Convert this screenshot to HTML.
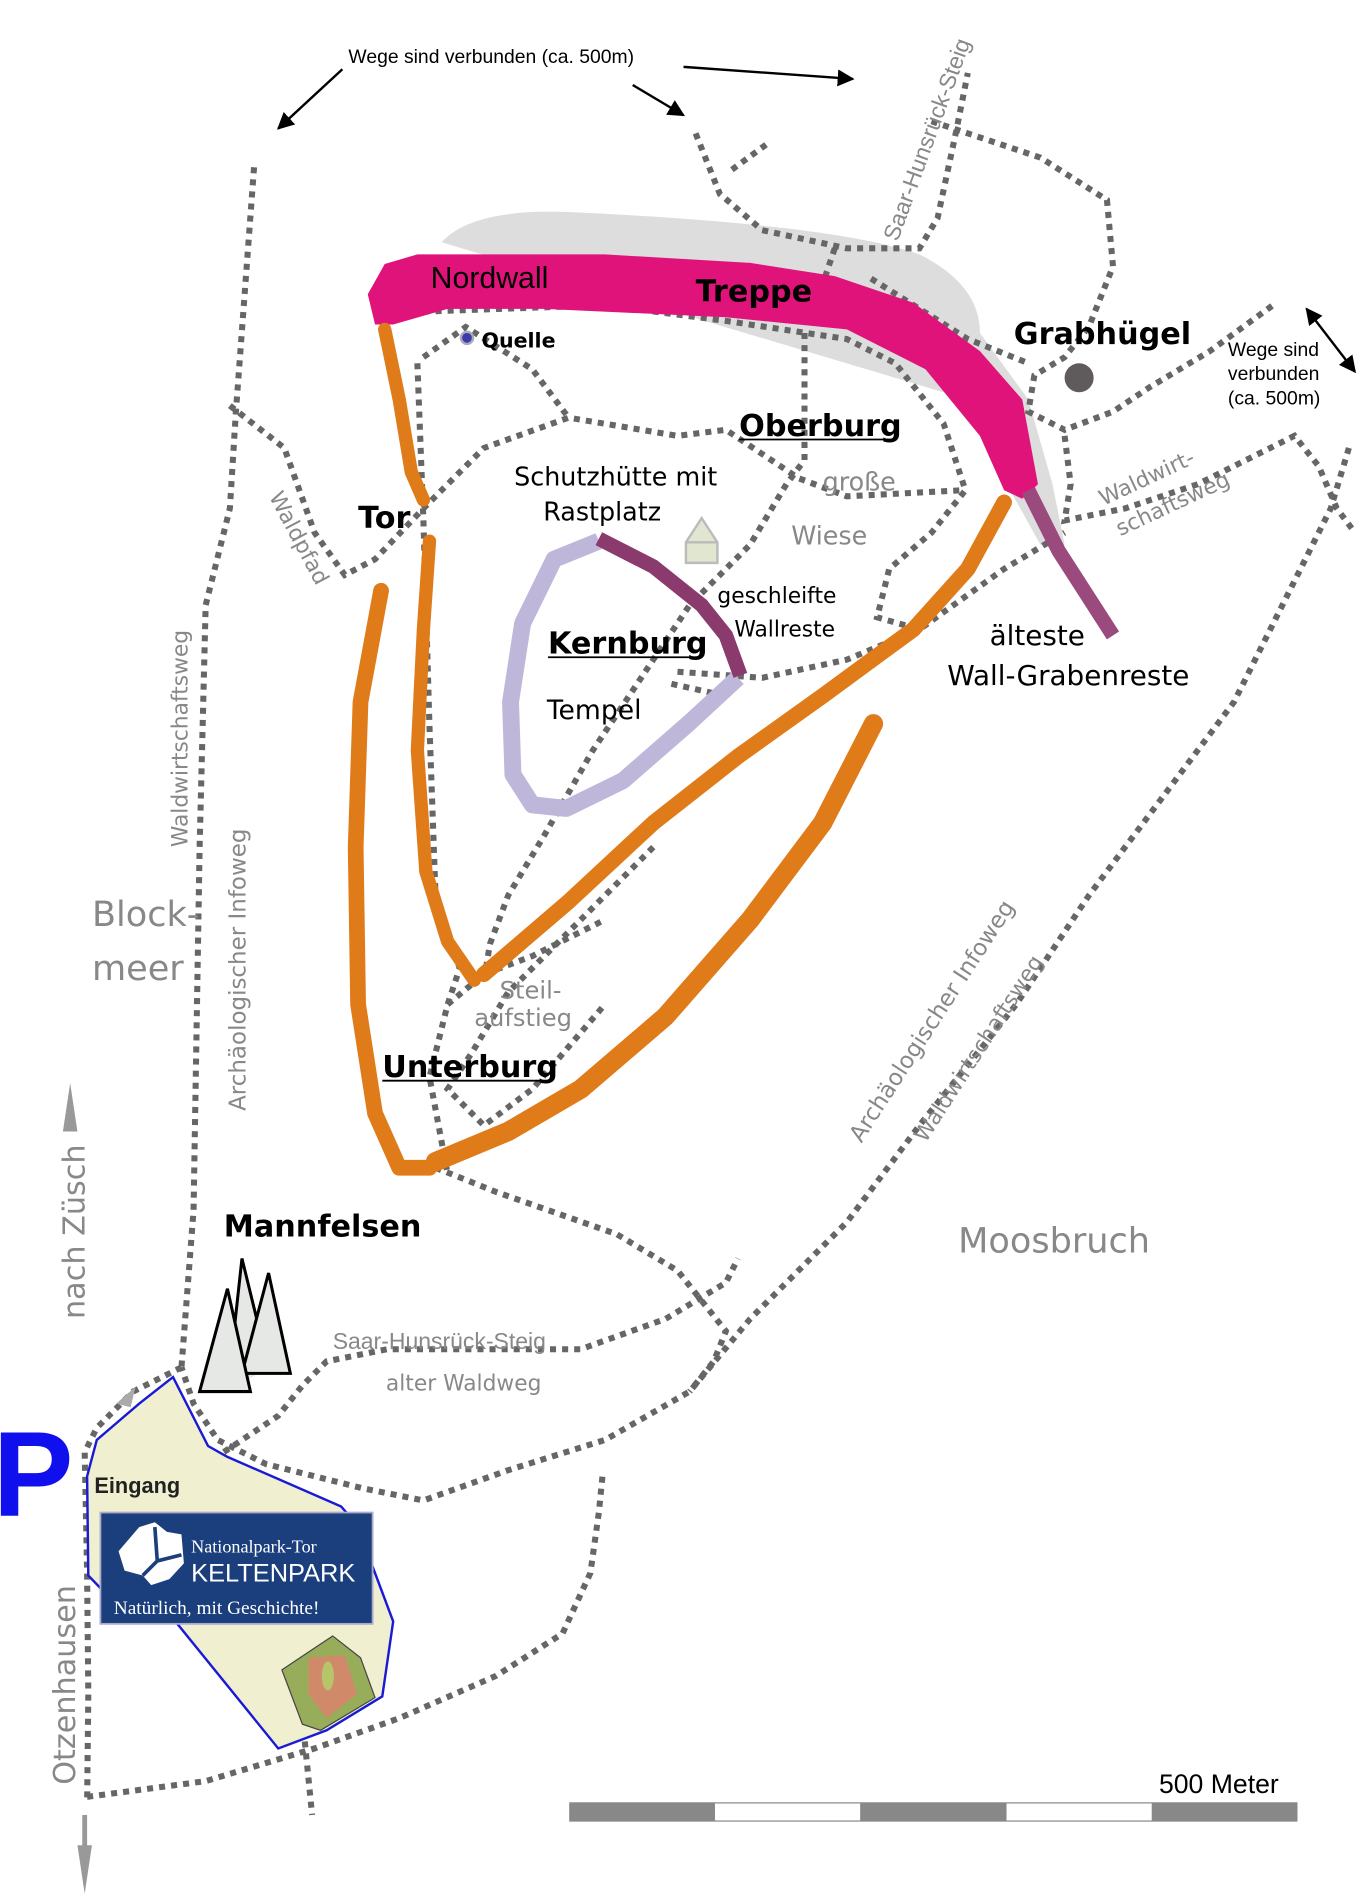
<!DOCTYPE html>
<html><head><meta charset="utf-8"><style>
html,body{margin:0;padding:0;background:#fff;}
svg{display:block}
.d{fill:none;stroke:#666;stroke-width:5;stroke-dasharray:5 5}
.c{font-family:"DejaVu Sans","Liberation Sans",sans-serif}
.a{font-family:"Liberation Sans",sans-serif}
.g{fill:#888}
</style></head><body>
<svg width="1361" height="1900" viewBox="0 0 1125 1570" xmlns="http://www.w3.org/2000/svg">
<defs><marker id="ar" viewBox="0 0 10 10" refX="9" refY="5" markerWidth="7" markerHeight="7" orient="auto-start-reverse"><path d="M0,0L10,5L0,10z" fill="#000"/></marker></defs>

<!-- gray shadow -->
<path d="M365,200 Q390,172 470,175 Q690,185 760,210 Q810,235 810,275 L850,330 L870,400 L880,450 L860,450 L835,405 L800,330 Z" fill="#ddd"/>

<!-- dotted paths -->
<g class="d">
<path d="M210,138 L195,340 L190,420 L170,500 L165,700 L160,1000 L150,1130"/>
<path d="M190,335 L235,370 L260,440 L285,475 L310,462 L350,420 L400,370 L470,345 L560,360 L600,355 L660,395 L700,410 L795,405"/>
<path d="M350,295 L385,270 L440,305 L470,345"/>
<path d="M345,300 L350,430 L355,600 L360,740 L380,800 L370,830 L355,890 L370,970"/>
<path d="M330,258 L500,252 L600,265 L700,280 L740,300 L780,350 L798,405 L770,440 L735,470 L725,510 L760,520"/>
<path d="M665,275 L665,380 L650,400 L620,450 L570,500 L530,560 L490,620 L450,690 L420,740 L405,780 L400,810"/>
<path d="M690,205 L668,270"/>
<path d="M575,110 L595,160 L630,190 L700,205 L760,205 L775,180 L790,110 L800,60"/>
<path d="M605,140 L635,118"/>
<path d="M770,100 L860,130 L915,165 L920,220 L900,270 L880,295 L855,310 L850,340 L880,355 L920,340 L950,320 L1000,290 L1055,250"/>
<path d="M720,230 L800,280 L850,300"/>
<path d="M880,360 L885,400 L880,430 L930,420 L990,400 L1040,375 L1070,360 L1090,385 L1105,420 L1120,440"/>
<path d="M1115,370 L1100,420 L1060,500 L1020,580 L960,660 L900,740 L840,830 L800,880 L760,930 L700,1010 L620,1090 L570,1150 L500,1190 L420,1215 L350,1240 L300,1230 L220,1210 L180,1190 L160,1160 L150,1130"/>
<path d="M560,555 L630,560 L700,545 L760,520 L830,470 L880,440"/>
<path d="M555,565 L600,575"/>
<path d="M360,965 L410,985 L510,1020 L560,1050 L600,1100 L590,1125 L570,1150"/>
<path d="M185,1200 L230,1170 L250,1145 L270,1125 L320,1115 L400,1115 L480,1115 L550,1090 L600,1060 L610,1040"/>
<path d="M370,830 L400,805 L440,790 L500,760"/>
<path d="M540,700 L480,760 L420,820 L390,870 L370,900 L400,930 L440,900 L500,830"/>
<path d="M150,1130 L110,1150 L80,1180 L70,1200 L72,1300 L73,1400 L72,1490"/>
<path d="M72,1485 L170,1472 L260,1445 L330,1420 L410,1385 L465,1350 L488,1300 L495,1250 L498,1220"/>
<path d="M240,1350 L250,1420 L258,1500"/>
</g>

<!-- Nordwall -->
<path d="M304,243 L318,218 L345,210 L500,210 L620,217 L690,228 L755,250 L810,290 L845,330 L858,400 L845,412 L830,405 L810,360 L765,305 L700,272 L600,262 L450,255 L370,255 L325,268 L310,268 Z" fill="#e0137b"/>
<path d="M850,405 L875,455 L920,525" stroke="#9b4a7d" stroke-width="12" fill="none"/>

<!-- orange walls -->
<g fill="none" stroke="#e07b1a" stroke-linecap="round" stroke-linejoin="round">
<path d="M318,272 L330,330 L340,390 L350,413" stroke-width="11"/>
<path d="M355,447 L350,520 L345,620 L352,720 L370,778 L392,810" stroke-width="11"/>
<path d="M315,488 L298,580 L294,700 L296,830 L310,920 L330,965 L355,965" stroke-width="13"/>
<path d="M360,960 L420,935 L480,900 L550,840 L620,760 L680,680 L722,598" stroke-width="16"/>
<path d="M400,805 L470,745 L540,680 L610,625 L680,575 L755,520 L800,470 L830,415" stroke-width="13"/>
</g>

<!-- Kernburg -->
<path d="M495,447 L458,462 L432,515 L422,580 L424,640 L440,665 L468,668 L515,645 L570,597 L610,560" fill="none" stroke="#bfb7da" stroke-width="14" stroke-linejoin="round"/>
<path d="M495,445 L540,468 L580,500 L600,525 L612,558" fill="none" stroke="#8b3a6d" stroke-width="12"/>
<!-- hut -->
<path d="M567,448 L580,428 L593,448 L593,465 L567,465 Z" fill="#e1e6d1" stroke="#bbb" stroke-width="2"/>
<line x1="567" y1="448" x2="593" y2="448" stroke="#bbb" stroke-width="2"/>
<!-- Quelle -->
<circle cx="386" cy="279" r="5" fill="#3a3aa8" stroke="#aab" stroke-width="2"/>
<!-- Grabhügel -->
<circle cx="892" cy="312" r="12" fill="#5f5a5c"/>

<!-- arrows -->
<g stroke="#000" stroke-width="2" fill="none">
<line x1="283" y1="57" x2="230" y2="106" marker-end="url(#ar)"/>
<line x1="565" y1="55" x2="705" y2="65" marker-end="url(#ar)"/>
<line x1="523" y1="70" x2="565" y2="95" marker-end="url(#ar)"/>
<line x1="1080" y1="255" x2="1120" y2="307" marker-start="url(#ar)" marker-end="url(#ar)"/>
</g>
<line x1="58" y1="935" x2="58" y2="920" stroke="#999" stroke-width="4"/>
<path d="M52,935 L58,895 L64,935Z" fill="#999"/>
<line x1="70" y1="1500" x2="70" y2="1530" stroke="#999" stroke-width="4"/>
<path d="M64,1525 L70,1565 L76,1525Z" fill="#999"/>

<!-- Keltenpark area -->
<path d="M143,1138 L172,1195 L188,1204 L282,1245 L295,1260 L325,1340 L316,1402 L270,1430 L230,1445 L145,1340 L95,1325 L73,1302 L72,1220 L80,1190 L115,1160 Z" fill="#f0efcf" stroke="#1a1ad6" stroke-width="2"/>
<path d="M96,1160 L112,1146 L108,1163Z" fill="#aaa"/>
<rect x="83" y="1250" width="225" height="92" fill="#1b3f7c" stroke="#aac" stroke-width="1.5"/>
<path d="M115,1262 L128,1258 L138,1266 L150,1268 L152,1292 L140,1305 L125,1310 L118,1302 L103,1298 L98,1282 Z" fill="#fff"/>
<path d="M128,1262 L130,1290 L118,1302 M130,1290 L150,1285" stroke="#1b3f7c" stroke-width="3" fill="none"/>
<text x="158" y="1283" font-family="Liberation Serif,serif" font-size="15" fill="#fff">Nationalpark-Tor</text>
<text x="158" y="1307" font-family="Liberation Sans,sans-serif" font-size="21" fill="#fff">KELTENPARK</text>
<text x="94" y="1334" font-family="Liberation Serif,serif" font-size="16" fill="#fff">Natürlich, mit Geschichte!</text>
<path d="M233,1380 L275,1352 L298,1370 L310,1403 L265,1430 L250,1425 Z" fill="#98ad5a" stroke="#444" stroke-width="1"/>
<path d="M255,1370 L285,1368 L295,1400 L270,1420 L255,1400Z" fill="#d08a6a"/>
<ellipse cx="271" cy="1385" rx="5" ry="12" fill="#b6c46a"/>

<!-- Mannfelsen -->
<path d="M188,1150 L200,1040 L222,1130" fill="#e6e8e6" stroke="#000" stroke-width="2.5"/>
<path d="M200,1135 L222,1052 L240,1135Z" fill="#e6e8e6" stroke="#000" stroke-width="2.5"/>
<path d="M165,1150 L188,1065 L207,1150Z" fill="#e6e8e6" stroke="#000" stroke-width="2.5"/>

<text x="-6" y="1253" font-family="Liberation Sans,sans-serif" font-weight="bold" font-size="100" fill="#1010ee">P</text>

<!-- scale -->
<rect x="471" y="1490" width="601" height="15" fill="#fff" stroke="#888" stroke-width="1"/>
<rect x="471" y="1490" width="120" height="15" fill="#888"/>
<rect x="711" y="1490" width="121" height="15" fill="#888"/>
<rect x="952" y="1490" width="120" height="15" fill="#888"/>
<text x="958" y="1482" class="a" font-size="22">500 Meter</text>

<!-- labels -->
<text x="288" y="52" class="a" font-size="16">Wege sind verbunden (ca. 500m)</text>
<text x="1015" y="294" class="a" font-size="16">Wege sind</text>
<text x="1015" y="314" class="a" font-size="16">verbunden</text>
<text x="1015" y="334" class="a" font-size="16">(ca. 500m)</text>
<text x="356" y="238" class="a" font-size="25">Nordwall</text>
<text x="575" y="249" class="c" font-size="25" font-weight="bold">Treppe</text>
<text x="398" y="287" class="c" font-size="17" font-weight="bold">Quelle</text>
<text x="838" y="284" class="c" font-size="25" font-weight="bold">Grabhügel</text>
<text x="611" y="360" class="c" font-size="25" font-weight="bold">Oberburg</text>
<line x1="611" y1="363" x2="740" y2="363" stroke="#000" stroke-width="1.5"/>
<text x="425" y="401" class="c" font-size="21">Schutzhütte mit</text>
<text x="449" y="430" class="c" font-size="21">Rastplatz</text>
<text x="680" y="405" class="c g" font-size="21">große</text>
<text x="654" y="450" class="c g" font-size="21">Wiese</text>
<text x="296" y="436" class="c" font-size="25" font-weight="bold">Tor</text>
<text x="593" y="498" class="c" font-size="18">geschleifte</text>
<text x="607" y="526" class="c" font-size="18">Wallreste</text>
<text x="453" y="540" class="c" font-size="25" font-weight="bold">Kernburg</text>
<line x1="453" y1="543" x2="576" y2="543" stroke="#000" stroke-width="1.5"/>
<text x="452" y="594" class="c" font-size="22">Tempel</text>
<text x="818" y="533" class="c" font-size="23">älteste</text>
<text x="783" y="566" class="c" font-size="23">Wall-Grabenreste</text>
<text x="76" y="765" class="c g" font-size="29">Block-</text>
<text x="76" y="810" class="c g" font-size="29">meer</text>
<text x="413" y="825" class="c g" font-size="20">Steil-</text>
<text x="392" y="848" class="c g" font-size="20">aufstieg</text>
<text x="316" y="890" class="c" font-size="25" font-weight="bold">Unterburg</text>
<line x1="316" y1="893" x2="456" y2="893" stroke="#000" stroke-width="1.5"/>
<text x="185" y="1022" class="c" font-size="25" font-weight="bold">Mannfelsen</text>
<text x="792" y="1035" class="c g" font-size="29">Moosbruch</text>
<text x="275" y="1115" class="a g" font-size="19">Saar-Hunsrück-Steig</text>
<text x="319" y="1149" class="c g" font-size="18">alter Waldweg</text>
<text x="78" y="1234" class="a" font-size="18" font-weight="bold" fill="#222">Eingang</text>

<text transform="translate(155,700) rotate(-90)" class="c g" font-size="18">Waldwirtschaftsweg</text>
<text transform="translate(203,918) rotate(-90)" class="c g" font-size="19">Archäologischer Infoweg</text>
<text transform="translate(70,1090) rotate(-90)" class="c g" font-size="25">nach Züsch</text>
<text transform="translate(62,1475) rotate(-90)" class="c g" font-size="25">Otzenhausen</text>
<text transform="translate(222,410) rotate(62)" class="c g" font-size="18">Waldpfad</text>
<text transform="translate(742,200) rotate(-70)" class="a g" font-size="19">Saar-Hunsrück-Steig</text>
<text transform="translate(912,418) rotate(-25)" class="c g" font-size="18">Waldwirt-</text>
<text transform="translate(926,443) rotate(-25)" class="c g" font-size="18">schaftsweg</text>
<text transform="translate(712,945) rotate(-57)" class="c g" font-size="19">Archäologischer Infoweg</text>
<text transform="translate(765,945) rotate(-57)" class="c g" font-size="18">Waldwirtschaftsweg</text>
</svg>
</body></html>
